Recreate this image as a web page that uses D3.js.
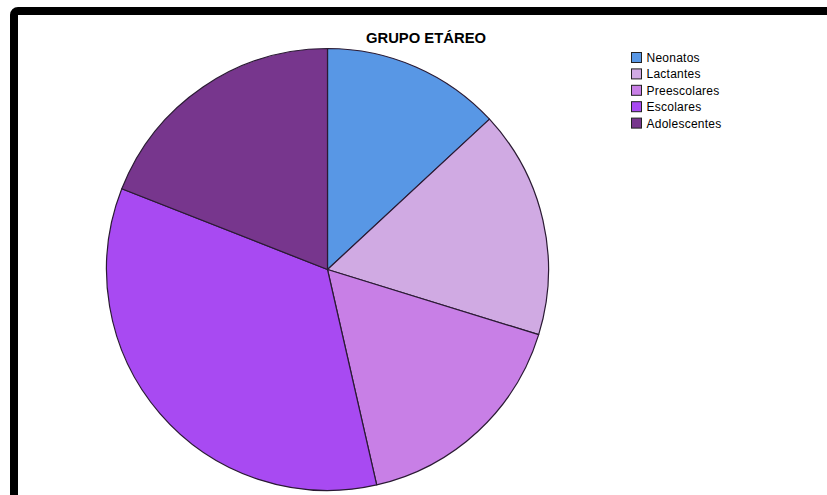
<!DOCTYPE html>
<html>
<head>
<meta charset="utf-8">
<script src="https://cdn.jsdelivr.net/npm/d3@7"></script>
<style>
  body { margin: 0; background: #fff; }
  svg { display: block; font-family: "Liberation Sans", Arial, sans-serif; }
</style>
</head>
<body>
<div id="chart"></div>
<script>
// Age groups and counts
var categories = ["Neonatos", "Lactantes", "Preescolares", "Escolares", "Adolescentes"];
var counts = [11, 14, 14, 29, 16];
var colors = ["#5897e5", "#d0aae3", "#c87fe6", "#a84af2", "#77368d"];

var width = 827;
var height = 495;

var svg = d3.select("#chart")
    .append("svg")
    .attr("width", width)
    .attr("height", height);

// frame, thick black on top and left
svg.append("rect")
    .attr("x", 14)
    .attr("y", 11)
    .attr("width", 1000)
    .attr("height", 800)
    .attr("rx", 4)
    .attr("fill", "none")
    .attr("stroke", "#000")
    .attr("stroke-width", 8);

// title
svg.append("text")
    .attr("x", 426)
    .attr("y", 42.5)
    .attr("text-anchor", "middle")
    .attr("font-size", 14.8)
    .attr("font-weight", "bold")
    .attr("fill", "#000")
    .text("GRUPO ETÁREO");

var data = categories.map(function(c, i) {
    return { name: c, value: counts[i], color: colors[i] };
});

var pie = d3.pie()
    .sort(null)
    .value(function(d) { return d.value; });

var radius = 221;
var arc = d3.arc().innerRadius(0).outerRadius(radius);

var g = svg.append("g")
    .attr("transform", "translate(327.5,269.5)");

g.selectAll("path")
    .data(pie(data))
    .enter()
    .append("path")
    .attr("d", arc)
    .attr("fill", function(d) { return d.data.color; })
    .attr("stroke", "#2a1a33")
    .attr("stroke-width", 1.2)
    .attr("stroke-linejoin", "round");

// legend
var legend = svg.append("g")
    .attr("transform", "translate(631,52)");

var item = legend.selectAll("g")
    .data(data)
    .enter()
    .append("g")
    .attr("transform", function(d, i) { return "translate(0," + (i * 16.4) + ")"; });

item.append("rect")
    .attr("x", 0.5)
    .attr("y", 0.5)
    .attr("width", 10)
    .attr("height", 10)
    .attr("fill", function(d) { return d.color; })
    .attr("stroke", "#222")
    .attr("stroke-width", 1);

item.append("text")
    .attr("x", 15.5)
    .attr("y", 10)
    .attr("font-size", 12)
    .attr("letter-spacing", 0.25)
    .attr("fill", "#000")
    .text(function(d) { return d.name; });
</script>
</body>
</html>
